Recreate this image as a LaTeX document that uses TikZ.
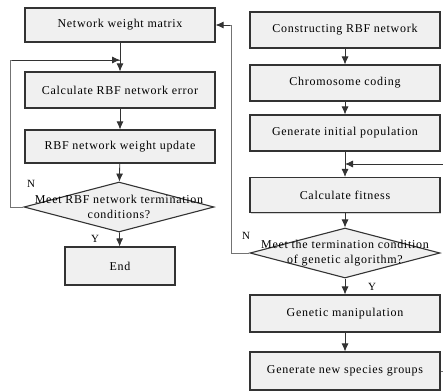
\documentclass[tikz,border=0pt]{standalone}
\usepackage{fontspec}
\setmainfont{Liberation Serif}[LetterSpace=6]
\usetikzlibrary{shapes.geometric,arrows.meta,shadows}

\begin{document}
\begin{tikzpicture}[x=1pt,y=-1pt,
		every node/.style={font=\fontsize{12}{15}\selectfont, black},
		box/.style={draw=black!80, line width=1.1pt, fill=black!6, minimum width=190pt, minimum height=36pt, inner sep=0pt,
			drop shadow={shadow xshift=1pt, shadow yshift=-1pt, opacity=0.35}},
		decision/.style={diamond, draw=black!80, line width=1.1pt, fill=black!6, minimum width=190pt, minimum height=50pt, inner sep=0pt},
		dtext/.style={align=center, inner sep=0pt},
		arr/.style={-{Latex[length=8pt,width=7pt]}, draw=black!80, line width=0.8pt},
		back/.style={draw=black!55, line width=0.8pt},
		lbl/.style={font=\fontsize{11}{12}\selectfont}]
	\clip (0,0) rectangle (443,391);
	% left column
	\node[box, minimum height=34pt] (wmatrix) at (120,25) {Network weight matrix};
	\node[box] (rbferror) at (120,90) {Calculate RBF network error};
	\node[box, minimum height=33pt] (wupdate) at (120,146.5) {RBF network weight update};
	\node[decision] (rbfstop) at (119,207) {};
	\node[dtext] (rbfstoptext) at (rbfstop) {Meet RBF network termination\\conditions?};
	\node[box, minimum width=110pt, minimum height=38pt] (finish) at (120,266) {End};
	\coordinate (rbfjoin) at (120,60);
	% right column
	\node[box] (construct) at (345,30) {Constructing RBF network};
	\node[box] (coding) at (345,83) {Chromosome coding};
	\node[box] (initpop) at (345,133) {Generate initial population};
	\node[box, minimum height=35pt] (fitness) at (345,195) {Calculate fitness};
	\node[decision] (gastop) at (345,253) {};
	\node[dtext] (gastoptext) at (gastop) {Meet the termination condition\\of genetic algorithm?};
	\node[box, minimum height=37pt] (genop) at (345,313.5) {Genetic manipulation};
	\node[box, minimum height=38pt] (newgroup) at (345,371) {Generate new species groups};
	\coordinate (gajoin) at (345,164);
	% connectors
	\draw[arr] (wmatrix) -- (rbferror);
	\draw[arr] (rbferror) -- (wupdate);
	\draw[arr] (wupdate) -- (rbfstop);
	\draw[arr] (rbfstop) -- (finish);
	\draw[back] (rbfstop.west) -- ++(-13,0) |- (rbfjoin);
	\draw[arr] (12,60) -- (rbfjoin);
	\draw[arr] (construct) -- (coding);
	\draw[arr] (coding) -- (initpop);
	\draw[arr] (initpop) -- (fitness);
	\draw[arr] (fitness) -- (gastop);
	\draw[arr] (gastop) -- (genop);
	\draw[arr] (genop) -- (newgroup);
	\draw[back] (gastop.west) -- ++(-18,0) |- ([xshift=12pt]wmatrix.east);
	\draw[arr] ([xshift=14pt]wmatrix.east) -- (wmatrix.east);
	\draw[back] (newgroup.east) -- ++(20,0) |- ([xshift=10pt]gajoin);
	\draw[arr] (460,164) -- (gajoin);
	% branch labels
	\node[lbl] (rbfno) at (31,184) {N};
	\node[lbl] (rbfyes) at (95,239) {Y};
	\node[lbl] (gano) at (246,236) {N};
	\node[lbl] (gayes) at (372,287) {Y};
\end{tikzpicture}
\end{document}
